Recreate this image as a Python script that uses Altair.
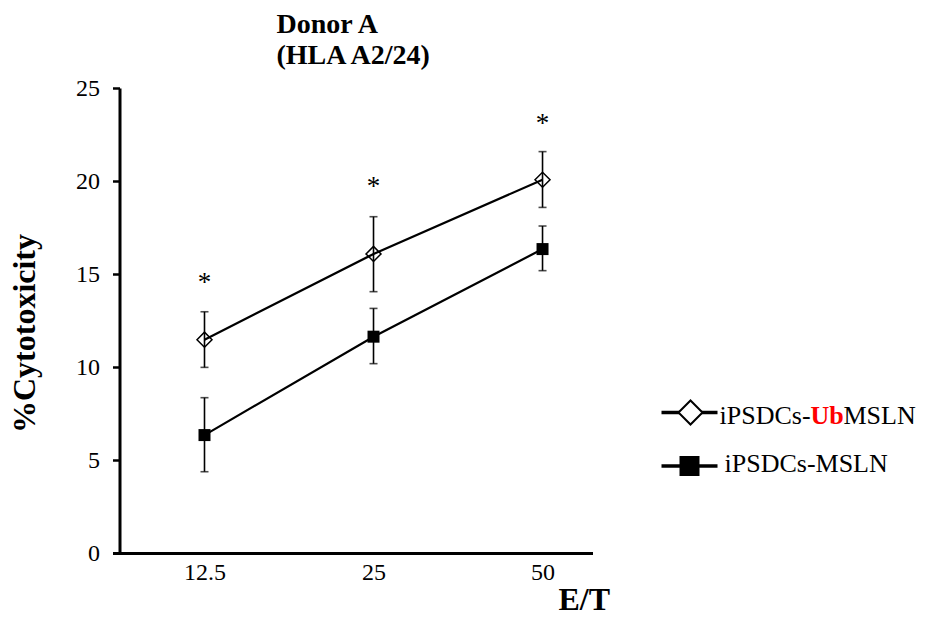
import altair as alt
import pandas as pd

# ---- data ----
et_labels = ["12.5", "25", "50"]
series_names = ["iPSDCs-UbMSLN", "iPSDCs-MSLN"]

ub_mean = [11.47, 16.08, 20.07]
ub_lo = [9.98, 14.05, 18.58]
ub_hi = [12.97, 18.08, 21.58]

ms_mean = [6.34, 11.63, 16.34]
ms_lo = [4.37, 10.18, 15.18]
ms_hi = [8.35, 13.15, 17.58]

star_y = [14.9, 20.05, 23.45]
star_text = ["*", "*", "*"]

y_ticks = [0, 5, 10, 15, 20, 25]
title_lines = ["Donor A", "(HLA A2/24)"]
legend_row1 = ["iPSDCs-", "Ub", "MSLN"]
legend_row2 = ["iPSDCs-MSLN"]

FONT = "Liberation Serif"

rows = []
for s, m, lo, hi in [(series_names[0], ub_mean, ub_lo, ub_hi),
                     (series_names[1], ms_mean, ms_lo, ms_hi)]:
    for i, e in enumerate(et_labels):
        rows.append({"et": e, "series": s, "mean": m[i], "lo": lo[i], "hi": hi[i]})
df = pd.DataFrame(rows)
stars = pd.DataFrame({"et": et_labels, "y": star_y, "t": star_text})

xscale = alt.Scale(type="point", domain=et_labels, padding=0.42, align=0.648)
yscale = alt.Scale(domain=[0, 25], nice=False)

xaxis = alt.Axis(title="E/T", ticks=False, grid=False, domainWidth=3, domainColor="black",
                 labelFont=FONT, labelFontSize=24, labelColor="black", labelPadding=7, labelAngle=0,
                 titleFont=FONT, titleFontSize=32, titleFontWeight="bold", titleColor="black",
                 titleAnchor="end", titleAlign="right", titleX=497, titleY=56,
                 titleBaseline="alphabetic")
yaxis = alt.Axis(values=y_ticks, offset=-7, tickSize=7, tickWidth=2.5, tickColor="black",
                 grid=False, domainWidth=3, domainColor="black",
                 labelFont=FONT, labelFontSize=24, labelColor="black", labelPadding=13,
                 title="%Cytotoxicity", titleFont=FONT, titleFontSize=32, titleFontWeight="bold",
                 titleColor="black", titleX=-85, titleY=245, titleBaseline="alphabetic")

base = alt.Chart(df)
X = alt.X("et:N", scale=xscale, axis=xaxis, sort=et_labels)

err = base.mark_rule(color="black", strokeWidth=1.6).encode(
    x=X, y=alt.Y("lo:Q", scale=yscale, axis=yaxis), y2="hi:Q", detail="series:N")
cap_lo = base.mark_tick(color="black", size=8, thickness=1.6, orient="horizontal").encode(
    x=X, y=alt.Y("lo:Q", scale=yscale))
cap_hi = base.mark_tick(color="black", size=8, thickness=1.6, orient="horizontal").encode(
    x=X, y=alt.Y("hi:Q", scale=yscale))
lines = base.mark_line(color="black", strokeWidth=2.2).encode(
    x=X, y=alt.Y("mean:Q", scale=yscale), detail="series:N")
diam = base.transform_filter(alt.datum.series == series_names[0]).mark_point(
    shape="diamond", size=225, filled=False, color="black", strokeWidth=1.5, opacity=1).encode(
    x=X, y=alt.Y("mean:Q", scale=yscale))
sq = base.transform_filter(alt.datum.series == series_names[1]).mark_point(
    shape="square", size=144, filled=True, color="black", opacity=1).encode(
    x=X, y=alt.Y("mean:Q", scale=yscale))
star = alt.Chart(stars).mark_text(font=FONT, fontSize=27, color="black", baseline="middle",
                                  dy=7).encode(
    x=alt.X("et:N", scale=xscale, sort=et_labels), y=alt.Y("y:Q", scale=yscale), text="t:N")

# ---- manual legend ----
leg_df = pd.DataFrame({"k": [0]})
lb = alt.Chart(leg_df)
leg_line1 = lb.mark_rule(color="black", strokeWidth=3.5).encode(
    x=alt.value(549), x2=alt.value(605), y=alt.value(324.5))
leg_line2 = lb.mark_rule(color="black", strokeWidth=3.5).encode(
    x=alt.value(549), x2=alt.value(605), y=alt.value(378))
leg_diam = lb.mark_point(shape="diamond", size=576, filled=True, fill="white", stroke="black",
                         strokeWidth=2, opacity=1).encode(x=alt.value(578), y=alt.value(324.5))
leg_sq = lb.mark_point(shape="square", size=400, filled=True, color="black", opacity=1).encode(
    x=alt.value(577), y=alt.value(378))
t1a = alt.Chart(pd.DataFrame({"t": [legend_row1[0]]})).mark_text(
    font=FONT, fontSize=26, color="black", align="left", baseline="alphabetic").encode(
    x=alt.value(607), y=alt.value(336), text="t:N")
t1b = alt.Chart(pd.DataFrame({"t": [legend_row1[1]]})).mark_text(
    font=FONT, fontSize=26, color="#ff0000", fontWeight="bold", align="left",
    baseline="alphabetic").encode(x=alt.value(698), y=alt.value(336), text="t:N")
t1c = alt.Chart(pd.DataFrame({"t": [legend_row1[2]]})).mark_text(
    font=FONT, fontSize=26, color="black", align="left", baseline="alphabetic").encode(
    x=alt.value(731), y=alt.value(336), text="t:N")
t2 = alt.Chart(pd.DataFrame({"t": legend_row2})).mark_text(
    font=FONT, fontSize=26, color="black", align="left", baseline="alphabetic").encode(
    x=alt.value(612), y=alt.value(384), text="t:N")

chart = alt.layer(err, cap_lo, cap_hi, lines, diam, sq, star,
                  leg_line1, leg_line2, leg_diam, leg_sq, t1a, t1b, t1c, t2).properties(
    width=480, height=465,
    padding={"left": 0.5, "top": 3, "right": 0, "bottom": 0},
    title=alt.TitleParams(text=title_lines, anchor="start", frame="group", dx=164,
                          font=FONT, fontSize=28, fontWeight="bold", lineHeight=31,
                          color="black", offset=6),
).configure(background="white", view=alt.ViewConfig(stroke=None))

chart.save("out.html", embed_options={"renderer": "svg", "actions": False})
